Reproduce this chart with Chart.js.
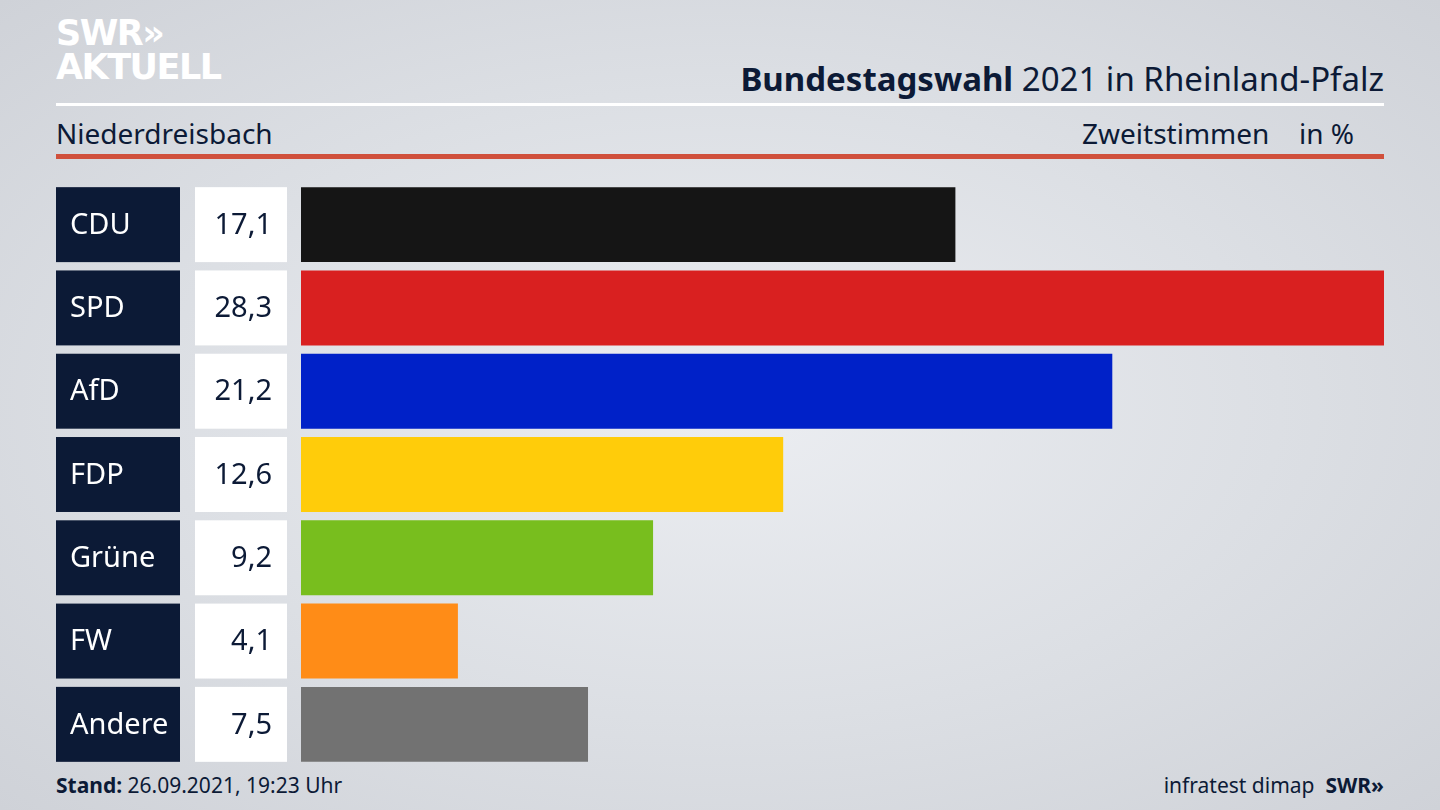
<!DOCTYPE html>
<html><head><meta charset="utf-8">
<script src="https://cdn.jsdelivr.net/npm/chart.js@4"></script>
<style>
body{margin:0;width:1440px;height:810px;overflow:hidden;font-family:"Noto Sans",sans-serif;color:#0c1a36;
 background:radial-gradient(ellipse at 50% 50%,#eceef2 0%,#dcdfe4 55%,#cfd2d8 100%);position:relative}
.abs{position:absolute}
#logo{left:56px;top:16px;color:#fff;font-weight:900;font-size:35px;line-height:34px;letter-spacing:-1.5px;font-family:"DejaVu Sans",sans-serif}
#title{right:56px;top:56px;font-size:33px}
#wline{left:56px;top:103px;width:1328px;height:3px;background:#fff}
#place{left:56px;top:114px;font-size:28px}
#zw{left:1082px;top:114px;font-size:28px}
#pct{left:1299px;top:114px;font-size:28px}
#rline{left:56px;top:154px;width:1328px;height:5px;background:#d0503c}
#stand{left:56px;top:771px;font-size:21px}
#src{right:56px;top:771px;font-size:21px}
#cwrap{left:56px;top:183px;width:1328px;height:583px}
</style></head><body>
<div id="logo" class="abs">SWR»<br>AKTUELL</div>
<div id="title" class="abs"><b>Bundestagswahl</b> 2021 in Rheinland-Pfalz</div>
<div id="wline" class="abs"></div>
<div id="place" class="abs">Niederdreisbach</div>
<div id="zw" class="abs">Zweitstimmen</div>
<div id="pct" class="abs">in %</div>
<div id="rline" class="abs"></div>
<div id="cwrap" class="abs"><canvas id="c"></canvas></div>
<div id="stand" class="abs"><b>Stand:</b> 26.09.2021, 19:23 Uhr</div>
<div id="src" class="abs">infratest dimap &nbsp;<b>SWR»</b></div>
<script>
const parties = ["CDU","SPD","AfD","FDP","Grüne","FW","Andere"];
const shares = [17.1,28.3,21.2,12.6,9.2,4.1,7.5];
const colors = ["#151515","#d92020","#0021c8","#ffcc0a","#78be1e","#ff8c17","#727272"];

const boxes = {
  id: "boxes",
  afterDatasetsDraw(chart) {
    const ctx = chart.ctx;
    chart.getDatasetMeta(0).data.forEach((bar, i) => {
      const top = bar.y - bar.height / 2, h = bar.height;
      ctx.fillStyle = "#0c1a36";
      ctx.fillRect(0, top, 124, h);
      ctx.fillStyle = "#ffffff";
      ctx.fillRect(139, top, 92, h);
      ctx.font = "29px 'Noto Sans'";
      ctx.textBaseline = "middle";
      ctx.textAlign = "left";
      ctx.fillText(parties[i], 14, bar.y + 1);
      ctx.fillStyle = "#0c1a36";
      ctx.textAlign = "right";
      ctx.fillText(shares[i].toFixed(1).replace(".", ","), 216, bar.y + 1);
    });
  }
};

new Chart(document.getElementById("c"), {
  type: "bar",
  data: { labels: parties, datasets: [{ data: shares, backgroundColor: colors, barPercentage: 0.9, categoryPercentage: 1 }] },
  options: {
    indexAxis: "y", responsive: true, maintainAspectRatio: false, animation: false,
    layout: { padding: { left: 245, right: 0, top: 0, bottom: 0 } },
    plugins: { legend: { display: false }, tooltip: { enabled: false } },
    scales: {
      x: { display: false, min: 0, max: 28.3 },
      y: { display: false }
    }
  },
  plugins: [boxes]
});
</script>
</body></html>
